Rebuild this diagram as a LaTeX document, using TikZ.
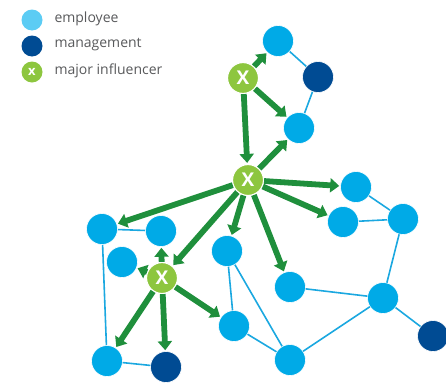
\documentclass[tikz,border=0pt]{standalone}
\usepackage{fontspec}
\setmainfont{Open Sans}
\usetikzlibrary{arrows.meta}
\definecolor{emp}{HTML}{00AAE7}
\definecolor{emplight}{HTML}{5CCCF4}
\definecolor{mgmt}{HTML}{004B93}
\definecolor{infl}{HTML}{8DC63F}
\definecolor{arrowgreen}{HTML}{1F8F3C}
\definecolor{linkblue}{HTML}{1BA8E0}
\definecolor{legendtext}{HTML}{58595B}
\tikzset{
  employee/.style={circle,fill=emp,draw=white,line width=.6pt,minimum size=31pt,inner sep=0pt},
  management/.style={employee,fill=mgmt},
  influencer/.style={employee,fill=infl,line width=1.2pt,text=white,font=\fontsize{19}{19}\selectfont\bfseries},
  link/.style={linkblue,line width=1.6pt},
  push/.style={arrowgreen,line width=5.8pt,-{Triangle[length=9pt,width=14pt]},shorten >=1pt},
  legendlabel/.style={anchor=west,text=legendtext,font=\fontsize{14}{16}\selectfont}
}
\begin{document}
\begin{tikzpicture}[x=1pt,y=-1pt]
    \useasboundingbox (0,0) rectangle (446,383);
    % legend
    \node[employee,fill=emplight,minimum size=21pt,draw=none] (keyemp) at (32,20) {};
    \node[management,minimum size=21pt,draw=none] (keymgmt) at (32,46) {};
    \node[influencer,minimum size=21pt,draw=none,font=\fontsize{13}{13}\selectfont\bfseries] (keyinfl) at (32,72) {x};
    \node[legendlabel] at (51,19) {employee};
    \node[legendlabel] at (51,45) {management};
    \node[legendlabel] at (51,71) {major influencer};
    % employees
    \foreach \n/\x/\y in {a/278/41, b/299/128, c/356/187, d/343/222, e/403/219,
                          f/227/251, g/290/287, h/383/298, j/234/326, k/290/360,
                          l/102/229, n/161/231, o/122/262, p/107/361}
      \node[employee] (\n) at (\x,\y) {};
    % management
    \foreach \n/\x/\y in {m1/318/77, m2/166/367, i/433/336}
      \node[management] (\n) at (\x,\y) {};
    % influencers
    \node[influencer] (x1) at (243,78) {X};
    \node[influencer] (x0) at (248,180) {X};
    \node[influencer] (x2) at (162,278) {X};
    % plain links
    \foreach \s/\t in {a/m1, m1/b, c/e, d/e, e/h, g/h, h/i, h/k, f/j, f/k, j/k, l/n, l/p, p/m2}
      \draw[link] (\s) -- (\t);
    % influence
    \foreach \s/\t in {x1/a, x1/b, x1/x0, x0/b, x0/c, x0/d, x0/l, x0/f, x0/g, x0/x2,
                       x2/n, x2/o, x2/p, x2/m2, x2/j}
      \draw[push] (\s) -- (\t);
\end{tikzpicture}
\end{document}
